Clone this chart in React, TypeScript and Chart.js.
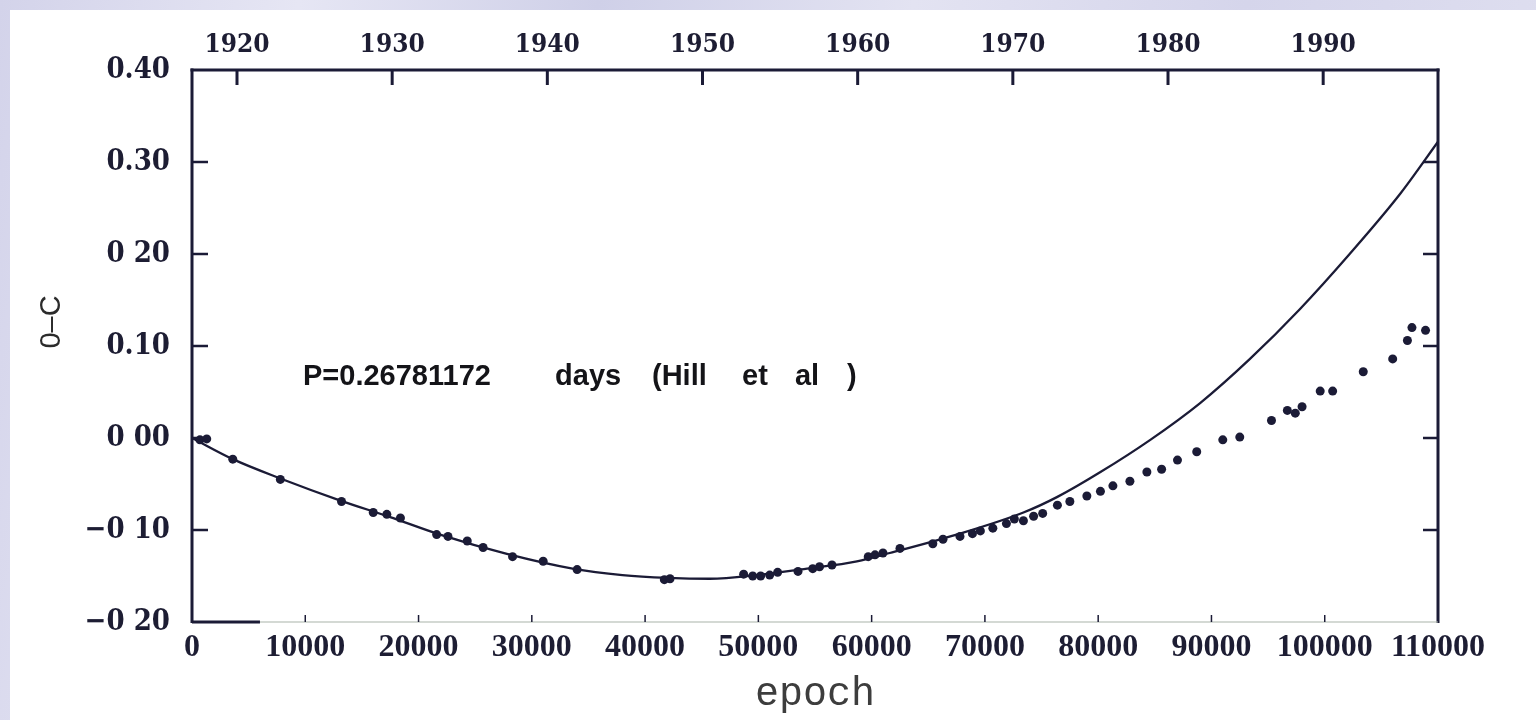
import React, { useEffect, useRef } from "react";
import { Chart, registerables } from "chart.js";

Chart.register(...registerables);

// Bottom axis: cycle number (epoch)
const epochTicks = [0, 10000, 20000, 30000, 40000, 50000, 60000, 70000, 80000, 90000, 100000, 110000];
const epochLabels = ["0", "10000", "20000", "30000", "40000", "50000", "60000", "70000", "80000", "90000", "100000", "110000"];

// Top axis: calendar year
const yearTicks = [1920, 1930, 1940, 1950, 1960, 1970, 1980, 1990];
const yearMin = 1917.1;
const yearMax = 1997.4;

// Left axis: O–C residual (days)
const ocTicks = [-0.2, -0.1, 0, 0.1, 0.2, 0.3, 0.4];
const ocLabels = ["−0 20", "−0 10", "0 00", "0.10", "0 20", "0.30", "0.40"];

// Observed times of minimum
const obsEpoch = [
  700, 1300, 3600, 7800, 13200, 16000, 17200, 18400, 21600, 22600, 24300, 25700, 28300, 31000, 34000,
  41700, 42200, 48700, 49500, 50200, 51000, 51700, 53500, 54800, 55400, 56500, 59700, 60300, 61000,
  62500, 65400, 66300, 67800, 68900, 69600, 70700, 71900, 72600, 73400, 74300, 75100, 76400, 77500,
  79000, 80200, 81300, 82800, 84300, 85600, 87000, 88700, 91000, 92500, 95300, 96700, 97400, 98000,
  99600, 100700, 103400, 106000, 107300, 107700, 108900,
];
const obsOC = [
  -0.002, -0.001, -0.023, -0.045, -0.069, -0.081, -0.083, -0.087, -0.105, -0.107, -0.112, -0.119, -0.129, -0.134, -0.143,
  -0.154, -0.153, -0.148, -0.15, -0.15, -0.149, -0.146, -0.145, -0.142, -0.14, -0.138, -0.129, -0.127, -0.125,
  -0.12, -0.115, -0.11, -0.107, -0.104, -0.101, -0.098, -0.093, -0.088, -0.09, -0.085, -0.082, -0.073, -0.069,
  -0.063, -0.058, -0.052, -0.047, -0.037, -0.034, -0.024, -0.015, -0.002, 0.001, 0.019, 0.03, 0.027, 0.034,
  0.051, 0.051, 0.072, 0.086, 0.106, 0.12, 0.117,
];

// Predicted O–C curve
const fitEpoch = [
  0, 3600, 7800, 13100, 17500, 21900, 27800, 33600, 38000, 42000, 45700, 49900, 54300, 58700, 61600,
  67500, 73400, 76400, 80200, 84600, 89000, 93400, 97800, 102200, 106700, 110000,
];
const fitOC = [
  0.0, -0.023, -0.044, -0.068, -0.086, -0.105, -0.126, -0.142, -0.149, -0.152, -0.153, -0.149, -0.142, -0.134, -0.125,
  -0.105, -0.081, -0.064, -0.037, -0.002, 0.038, 0.086, 0.14, 0.2, 0.266, 0.322,
];

const noteParts = ["P=0.26781172", "days", "(Hill", "et", "al", ")"];

const INK = "#1b1b36";
const NOTE_AT = [9800, 32050, 40610, 48560, 53230, 57830];
const NOTE_OC = 0.066;

const seg = (ctx: CanvasRenderingContext2D, x1: number, y1: number, x2: number, y2: number, w: number, c: string) => {
  ctx.strokeStyle = c;
  ctx.lineWidth = w;
  ctx.beginPath();
  ctx.moveTo(x1, y1);
  ctx.lineTo(x2, y2);
  ctx.stroke();
};

// Box frame with inward-pointing tick marks
const framePlugin = {
  id: "ocFrame",
  afterDatasetsDraw(chart: any) {
    const { ctx, chartArea, scales } = chart;
    const { left, right, top, bottom } = chartArea;
    ctx.save();
    ctx.lineCap = "butt";
    seg(ctx, left, bottom + 1, left, top - 1.5, 3, INK);
    seg(ctx, left - 1.5, top, right + 1.5, top, 3, INK);
    seg(ctx, right, top - 1.5, right, bottom + 1, 3, INK);
    seg(ctx, left, bottom, right, bottom, 1.2, "#aab4aa");
    seg(ctx, left, bottom, scales.x.getPixelForValue(6000), bottom, 3, INK);
    ocTicks.slice(1, -1).forEach((v) => {
      const y = scales.y.getPixelForValue(v);
      seg(ctx, left, y, left + 16, y, 2.5, INK);
      seg(ctx, right - 15, y, right, y, 2.5, INK);
    });
    yearTicks.forEach((v) => {
      const x = scales.x2.getPixelForValue(v);
      seg(ctx, x, top, x, top + 15, 3, INK);
    });
    epochTicks.slice(1, -1).forEach((v) => {
      const x = scales.x.getPixelForValue(v);
      seg(ctx, x, bottom, x, bottom - 7, 1.5, INK);
    });
    ctx.restore();
  },
};

// Period note inside the plot and the rotated O–C axis title
const textPlugin = {
  id: "ocText",
  afterDraw(chart: any) {
    const { ctx, chartArea, scales } = chart;
    ctx.save();
    ctx.fillStyle = "#141418";
    ctx.font = "bold 29px 'Liberation Sans', Arial, sans-serif";
    ctx.textBaseline = "middle";
    ctx.textAlign = "left";
    const y = scales.y.getPixelForValue(NOTE_OC);
    noteParts.forEach((t, i) => ctx.fillText(t, scales.x.getPixelForValue(NOTE_AT[i]), y));
    ctx.translate(52, (chartArea.top + chartArea.bottom) / 2 - 24);
    ctx.rotate(-Math.PI / 2);
    ctx.textAlign = "center";
    ctx.font = "29px 'Liberation Sans', Arial, sans-serif";
    ctx.fillStyle = "#2b2b2b";
    ctx.fillText("0–C", 0, 0);
    ctx.restore();
  },
};

const serifCond = "'DejaVu Serif Condensed', 'DejaVu Serif', serif";

export default function App() {
  const canvasRef = useRef<HTMLCanvasElement | null>(null);

  useEffect(() => {
    document.body.style.margin = "0";
    let chart: Chart | null = null;
    let cancelled = false;
    const fonts = [
      `bold 29px 'DejaVu Serif Condensed'`,
      `bold 29px 'DejaVu Serif'`,
      `bold 32px 'Liberation Serif'`,
      `40px 'Liberation Mono'`,
      `bold 29px 'Liberation Sans'`,
      `29px 'Liberation Sans'`,
    ];
    Promise.all(fonts.map((f) => document.fonts.load(f).catch(() => null))).then(() => {
      if (cancelled || !canvasRef.current) return;
      chart = new Chart(canvasRef.current, {
        type: "scatter",
        data: {
          datasets: [
            {
              label: "ephemeris",
              data: fitEpoch.map((x, i) => ({ x, y: fitOC[i] })),
              showLine: true,
              borderColor: INK,
              borderWidth: 2.3,
              pointRadius: 0,
              cubicInterpolationMode: "monotone",
              fill: false,
              order: 1,
            } as any,
            {
              label: "timings",
              data: obsEpoch.map((x, i) => ({ x, y: obsOC[i] })),
              showLine: false,
              pointRadius: 4.5,
              pointBackgroundColor: INK,
              pointBorderWidth: 0,
              order: 0,
            } as any,
          ],
        },
        options: {
          responsive: false,
          animation: false,
          devicePixelRatio: 1,
          layout: { padding: 0 },
          plugins: { legend: { display: false }, tooltip: { enabled: false } },
          scales: {
            x: {
              type: "linear",
              position: "bottom",
              min: 0,
              max: 110000,
              afterBuildTicks: (s: any) => {
                s.ticks = epochTicks.map((value) => ({ value }));
              },
              afterFit: (s: any) => {
                s.height = 98;
              },
              grid: { display: false, drawTicks: false },
              border: { display: false },
              ticks: {
                autoSkip: false,
                maxRotation: 0,
                padding: 7,
                color: "#1d1d33",
                font: { family: "'Liberation Serif', serif", size: 32, weight: "bold" },
                callback: (_v: any, i: number) => epochLabels[i],
              },
              title: {
                display: true,
                text: "epoch",
                color: "#3d3d3d",
                font: { family: "'Liberation Mono', monospace", size: 40, weight: "normal" },
                padding: { top: 0, bottom: 2 },
              },
            },
            x2: {
              type: "linear",
              position: "top",
              min: yearMin,
              max: yearMax,
              afterBuildTicks: (s: any) => {
                s.ticks = yearTicks.map((value) => ({ value }));
              },
              afterFit: (s: any) => {
                s.height = 70;
              },
              grid: { display: false, drawTicks: false },
              border: { display: false },
              ticks: {
                autoSkip: false,
                maxRotation: 0,
                padding: 9,
                color: "#1d1d33",
                font: { family: serifCond, size: 26, weight: "bold" },
                callback: (v: any) => String(v),
              },
            },
            y: {
              type: "linear",
              position: "left",
              min: -0.2,
              max: 0.4,
              afterBuildTicks: (s: any) => {
                s.ticks = ocTicks.map((value) => ({ value }));
              },
              afterFit: (s: any) => {
                s.width = 192;
              },
              grid: { display: false, drawTicks: false },
              border: { display: false },
              ticks: {
                autoSkip: false,
                padding: 22,
                color: "#1d1d33",
                font: { family: serifCond, size: 29, weight: "bold" },
                callback: (_v: any, i: number) => ocLabels[i],
              },
            },
            y2: {
              type: "linear",
              position: "right",
              min: -0.2,
              max: 0.4,
              afterFit: (s: any) => {
                s.width = 98;
              },
              grid: { display: false, drawTicks: false },
              border: { display: false },
              ticks: { display: false },
            },
          },
        },
        plugins: [framePlugin, textPlugin],
      });
    });
    return () => {
      cancelled = true;
      if (chart) chart.destroy();
    };
  }, []);

  return (
    <div
      style={{
        position: "fixed",
        left: 0,
        top: 0,
        width: 1536,
        height: 720,
        overflow: "hidden",
        background:
          "linear-gradient(100deg, #d3d3ea 0%, #e6e6f4 18%, #cfd0e8 36%, #e3e3f2 55%, #d5d5eb 75%, #e1e1f1 100%)",
      }}
    >
      <div style={{ position: "absolute", left: 10, top: 10, right: 0, bottom: 0, background: "#ffffff" }} />
      <canvas
        ref={canvasRef}
        width={1536}
        height={720}
        style={{ position: "absolute", left: 0, top: 0, width: 1536, height: 720 }}
      />
    </div>
  );
}
